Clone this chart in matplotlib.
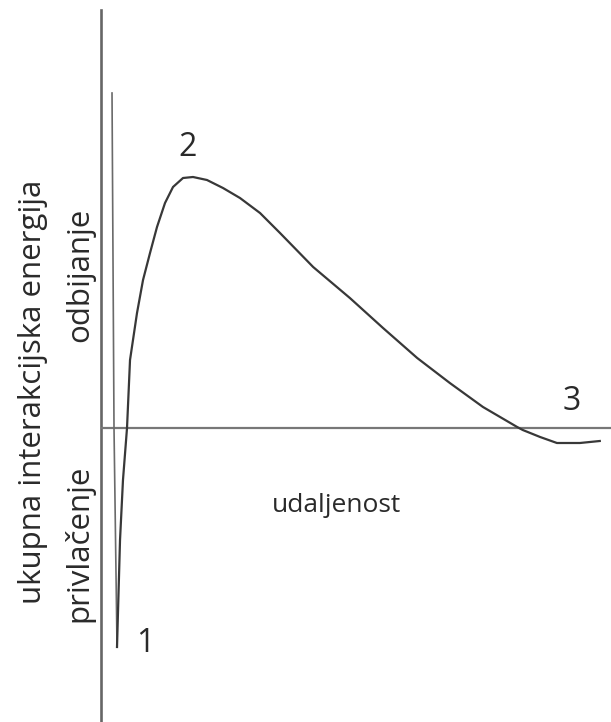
import numpy as np
import matplotlib
matplotlib.use('Agg')
import matplotlib.pyplot as plt

plt.rcParams['font.family'] = ['Open Sans', 'DejaVu Sans']

# ukupna energija vs. udaljenost (arbitrary units)
dist_wall = [2.16, 2.55, 3.14]
energy_wall = [134.0, 0.0, -87.6]

dist_curve = [3.14, 3.73, 4.31, 5.10, 5.69, 7.06, 8.24, 9.61, 10.98, 12.55,
              14.12, 16.08, 18.04, 20.78, 23.92, 27.25, 31.18, 35.1, 41.6,
              48.8, 55.3, 62.0, 68.4, 74.9, 81.6, 82.7, 86.1, 89.4, 93.9,
              97.8]
energy_curve = [-87.6, -44.8, -20.8, 0.0, 27.2, 46.0, 59.2, 70.0, 80.4, 90.0,
                96.4, 100.0, 100.4, 99.2, 96.0, 92.0, 86.0, 78.0, 64.4,
                52.0, 40.0, 28.0, 18.0, 8.4, 0.4, -0.8, -3.6, -6.0, -6.0,
                -5.2]

point_labels = ['1', '2', '3']
label_dist = [8.6, 17.06, 92.2]
label_energy = [-86.4, 112.4, 10.8]

fig = plt.figure(figsize=(6.11, 7.22), dpi=100)
ax = fig.add_axes([101 / 611, 0, 510 / 611, 1])
ax.set_xlim(0, 100)
ax.set_ylim(-117.6, 171.2)
ax.axis('off')

ax.axvline(0, ymin=0, ymax=0.986, color='#666666', lw=1.9, clip_on=False)
ax.axhline(0, color='#777777', lw=1.6)

ax.plot(dist_wall, energy_wall, color='#6a6a6a', lw=1.2)
ax.plot(dist_curve, energy_curve, color='#383838', lw=1.6,
        solid_joinstyle='round')

for lab, x, y in zip(point_labels, label_dist, label_energy):
    ax.text(x, y, lab, fontsize=23, color='#2a2a2a', ha='center', va='center')

ax.text(46.1, -30.8, 'udaljenost', fontsize=19, color='#2a2a2a',
        ha='center', va='center')

fig.text(33 / 611, 1 - 392 / 722, 'ukupna interakcijska energija',
         rotation=90, fontsize=22.5, color='#2a2a2a', ha='center', va='center')
fig.text(80 / 611, 1 - 275 / 722, 'odbijanje', rotation=90, fontsize=22.5,
         color='#2a2a2a', ha='center', va='center')
fig.text(79 / 611, 1 - 543 / 722, 'privlačenje', rotation=90, fontsize=22.5,
         color='#2a2a2a', ha='center', va='center')

fig.savefig('out.png', dpi=100, facecolor='white')
